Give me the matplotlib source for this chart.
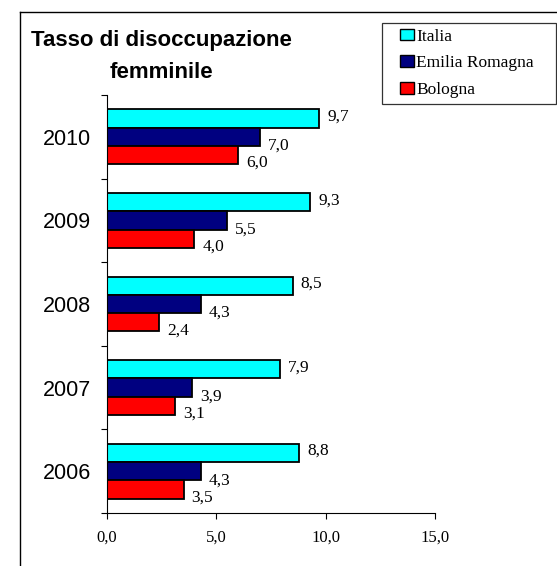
import matplotlib
matplotlib.use("Agg")
import matplotlib.pyplot as plt
from matplotlib.patches import Rectangle, Patch
from matplotlib.lines import Line2D
from matplotlib.legend_handler import HandlerPatch
import numpy as np

years = ["2006", "2007", "2008", "2009", "2010"]
series_names = ["Italia", "Emilia Romagna", "Bologna"]
italia = [8.8, 7.9, 8.5, 9.3, 9.7]
emilia = [4.3, 3.9, 4.3, 5.5, 7.0]
bologna = [3.5, 3.1, 2.4, 4.0, 6.0]
xticks = [0, 5, 10, 15]
xtick_labels = ["0,0", "5,0", "10,0", "15,0"]
title_lines = ["Tasso di disoccupazione", "femminile"]

colors = ["#00FFFF", "#000080", "#FF0000"]
W, H = 557, 566
fig = plt.figure(figsize=(W / 100, H / 100), dpi=100)
fig.patch.set_facecolor("white")

ax = fig.add_axes([107 / W, 1 - 513 / H, (435 - 107) / W, (513 - 95) / H])

serif = "Liberation Serif"
sans = "Liberation Sans"

h = 0.218
idx = np.arange(len(years))
offsets = [h, 0, -h]
label_dy = [2, -9, -8]
for vals, col, off, dy, name in zip([italia, emilia, bologna], colors, offsets, label_dy, series_names):
    ax.barh(idx + off, vals, height=h, color=col, edgecolor="black", linewidth=1.3, label=name)
    for y, v in zip(idx + off, vals):
        ax.annotate(f"{v:.1f}".replace(".", ","), xy=(v, y), xytext=(8, dy),
                    textcoords="offset pixels", ha="left", va="center",
                    fontsize=12.5, family=serif)

ax.set_xlim(0, 15)
ax.set_ylim(-0.5, len(years) - 0.5)
ax.set_xticks(xticks)
ax.set_xticklabels(xtick_labels, family=serif, fontsize=12)
ax.set_yticks(idx)
ax.set_yticklabels(years, family=sans, fontsize=15.5)
ax.set_yticks(np.arange(-0.5, len(years), 1.0), minor=True)
ax.tick_params(axis="y", which="major", length=0, pad=11.5)
ax.tick_params(axis="y", which="minor", length=4.5, width=0.8, direction="out")
ax.tick_params(axis="x", which="major", length=4, width=0.8, direction="out", pad=8)
for s in ["top", "right"]:
    ax.spines[s].set_visible(False)
for s in ["left", "bottom"]:
    ax.spines[s].set_linewidth(0.8)

fig.text(161 / W, 1 - 45.7 / H, title_lines[0], ha="center", va="baseline", fontsize=16,
         fontweight="bold", family=sans)
fig.text(161 / W, 1 - 77.7 / H, title_lines[1], ha="center", va="baseline", fontsize=16,
         fontweight="bold", family=sans)

# Outer chart frame (left and top edges visible)
fx = 19.5 / W
fy = 1 - 12 / H
fig.add_artist(Line2D([fx, fx], [fy, 0], transform=fig.transFigure, color="black", lw=1.0))
fig.add_artist(Line2D([fx, 1], [fy, fy], transform=fig.transFigure, color="black", lw=1.0))

sq_w = 14 * 0.72
def make_patch(legend, orig_handle, xdescent, ydescent, width, height, fontsize):
    return Rectangle((-xdescent + width - sq_w, -ydescent), sq_w, height)

handles = [Patch(facecolor=c, edgecolor="black", linewidth=1.0) for c in colors]
leg = fig.legend(handles, series_names, loc="upper left",
                 bbox_to_anchor=(382 / W, 1 - 101 / H, 174 / W, 78 / H),
                 bbox_transform=fig.transFigure, mode="expand",
                 prop={"family": serif, "size": 12.5}, frameon=True, fancybox=False,
                 edgecolor="black", borderpad=0.32, labelspacing=0.62,
                 handlelength=1.5, handleheight=0.64, handletextpad=0.15,
                 borderaxespad=0,
                 handler_map={Patch: HandlerPatch(patch_func=make_patch)})
leg.get_frame().set_linewidth(0.9)

fig.savefig("out.png", dpi=100)
